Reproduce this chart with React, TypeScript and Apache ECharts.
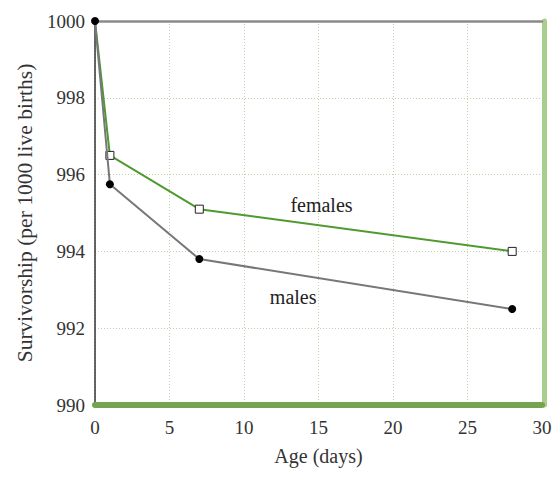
import React, { useEffect, useRef } from "react";
import * as echarts from "echarts";

const ages = [0, 1, 7, 28];
const females = [1000, 996.5, 995.1, 994.0];
const males = [1000, 995.75, 993.8, 992.5];
const xTicks = [0, 5, 10, 15, 20, 25, 30];
const yTicks = [990, 992, 994, 996, 998, 1000];
const femaleLabel = { text: "females", x: 15.2, y: 995.2 };
const maleLabel = { text: "males", x: 13.3, y: 992.8 };

const FONT = "Liberation Serif";

export default function App() {
  const ref = useRef<HTMLDivElement>(null);
  useEffect(() => {
    const chart = echarts.init(ref.current!, undefined, { renderer: "svg" });
    const grid = { lineStyle: { color: "#bcd3ac", type: [1, 2] as any, width: 1 } };
    chart.setOption({
      animation: false,
      textStyle: { fontFamily: FONT },
      grid: { left: 95, top: 21, right: 18, bottom: 72 },
      xAxis: [
        {
          type: "value",
          min: xTicks[0],
          max: xTicks[xTicks.length - 1],
          interval: 5,
          name: "Age (days)",
          nameLocation: "middle",
          nameGap: 41,
          nameTextStyle: { fontFamily: FONT, fontSize: 20, color: "#333" },
          axisLine: { show: true, onZero: false, lineStyle: { color: "#72a452", width: 6 } },
          axisTick: { show: false },
          axisLabel: { fontFamily: FONT, fontSize: 19, color: "#333", margin: 13 },
          splitLine: { show: true, ...grid },
        },
        {
          type: "value",
          position: "top",
          min: 0,
          max: 30,
          axisLine: { show: true, onZero: false, lineStyle: { color: "#8a8a8a", width: 2.5 } },
          axisTick: { show: false },
          axisLabel: { show: false },
          splitLine: { show: false },
        },
      ],
      yAxis: [
        {
          type: "value",
          min: yTicks[0],
          max: yTicks[yTicks.length - 1],
          interval: 2,
          name: "Survivorship (per 1000 live births)",
          nameLocation: "middle",
          nameGap: 58,
          nameTextStyle: { fontFamily: FONT, fontSize: 21.5, color: "#333" },
          axisLine: { show: true, onZero: false, lineStyle: { color: "#333", width: 1.5 } },
          axisTick: { show: false },
          axisLabel: {
            fontFamily: FONT,
            fontSize: 19,
            color: "#333",
            margin: 10,
            formatter: (v: number) => String(v),
          },
          splitLine: { show: true, ...grid },
        },
        {
          type: "value",
          position: "right",
          offset: 2.5,
          min: 990,
          max: 1000,
          axisLine: { show: true, onZero: false, lineStyle: { color: "#a9cd8d", width: 5 } },
          axisTick: { show: false },
          axisLabel: { show: false },
          splitLine: { show: false },
        },
      ],
      series: [
        {
          type: "line",
          data: ages.map((a, i) =>
            i === 0 ? { value: [a, females[i]], symbol: "none" } : [a, females[i]]
          ),
          lineStyle: { color: "#4f9a30", width: 2 },
          symbol: "rect",
          symbolSize: 8,
          itemStyle: { color: "#fff", borderColor: "#222", borderWidth: 1 },
          z: 3,
          markPoint: {
            symbol: "circle",
            symbolSize: 0,
            data: [
              {
                coord: [femaleLabel.x, femaleLabel.y],
                label: {
                  show: true,
                  formatter: femaleLabel.text,
                  fontFamily: FONT,
                  fontSize: 20,
                  color: "#222",
                },
              },
            ],
          },
        },
        {
          type: "line",
          data: ages.map((a, i) => [a, males[i]]),
          lineStyle: { color: "#777", width: 2 },
          symbol: "circle",
          symbolSize: 8,
          itemStyle: { color: "#000", borderColor: "#000", borderWidth: 0 },
          z: 4,
          markPoint: {
            symbol: "circle",
            symbolSize: 0,
            data: [
              {
                coord: [maleLabel.x, maleLabel.y],
                label: {
                  show: true,
                  formatter: maleLabel.text,
                  fontFamily: FONT,
                  fontSize: 20,
                  color: "#222",
                },
              },
            ],
          },
        },
      ],
    });
    return () => chart.dispose();
  }, []);
  return (
    <div
      ref={ref}
      style={{ position: "absolute", left: 0, top: 0, width: 560, height: 477 }}
    />
  );
}
